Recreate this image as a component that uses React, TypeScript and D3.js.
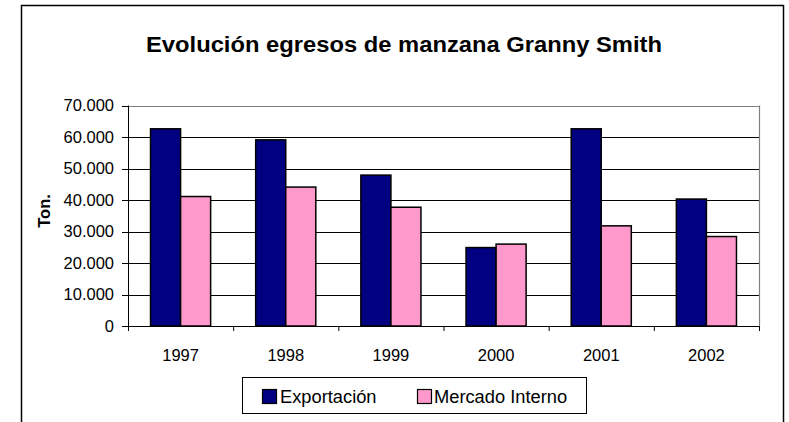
import React from "react";
import * as d3 from "d3";

const categories = ["1997", "1998", "1999", "2000", "2001", "2002"];
const exportacion = [62600, 59100, 47900, 24900, 62600, 40300];
const mercadoInterno = [41100, 44100, 37700, 26000, 31800, 28400];
const seriesNames = ["Exportación", "Mercado Interno"];
const yTicks = [0, 10000, 20000, 30000, 40000, 50000, 60000, 70000];

const colors = ["#000080", "#FF99CC"];
const font = "'Liberation Sans', Arial, sans-serif";

export default function App() {
  const W = 789, H = 422;
  const left = 128, right = 759, top = 105.5, bottom = 326;
  const x = d3.scaleBand<string>().domain(categories).range([left, right]).paddingInner(0).paddingOuter(0);
  const inner = d3.scaleBand<number>().domain([0, 1]).range([0, x.bandwidth()]).paddingOuter(0.75).paddingInner(0);
  const y = d3.scaleLinear().domain([0, 70000]).range([bottom, top]);
  const fmt = (v: number) => (v === 0 ? "0" : d3.format(",")(v).replace(/,/g, "."));
  const series = [exportacion, mercadoInterno];

  return (
    <svg width={W} height={H} style={{ position: "absolute", left: 0, top: 0 }}>
      <rect x={0} y={0} width={W} height={H} fill="#fff" />
      <rect x={21.5} y={5.5} width={762} height={430} fill="#fff" stroke="#000" strokeWidth={1.5} />
      <text x={404} y={52.3} textAnchor="middle" fontFamily={font} fontWeight="bold" fontSize={22}
        textLength={516} lengthAdjust="spacingAndGlyphs">
        Evolución egresos de manzana Granny Smith
      </text>
      {/* gridlines */}
      {yTicks.slice(1).map((t) => (
        <line key={t} x1={left} x2={right} y1={Math.round(y(t)) + 0.5} y2={Math.round(y(t)) + 0.5}
          stroke={t === 70000 ? "#808080" : "#000"} strokeWidth={1} />
      ))}
      <line x1={right + 0.5} x2={right + 0.5} y1={top} y2={bottom} stroke="#808080" strokeWidth={1.2} />
      {/* bars */}
      {series.map((vals, si) =>
        vals.map((v, i) => (
          <rect key={`${si}-${i}`} x={(x(categories[i]) as number) + (inner(si) as number)} y={y(v)}
            width={inner.bandwidth()} height={bottom - y(v)} fill={colors[si]} stroke="#000" strokeWidth={1.5} />
        ))
      )}
      {/* axes */}
      <line x1={left + 0.5} x2={left + 0.5} y1={top} y2={bottom + 5} stroke="#000" strokeWidth={1} />
      <line x1={left - 6} x2={right} y1={bottom + 0.5} y2={bottom + 0.5} stroke="#000" strokeWidth={1.2} />
      {yTicks.map((t) => (
        <g key={t}>
          <line x1={left - 6} x2={left} y1={Math.round(y(t)) + 0.5} y2={Math.round(y(t)) + 0.5} stroke="#000" />
          <text x={left - 14} y={y(t)} dy="0.35em" textAnchor="end" fontFamily={font} fontSize={16.5}>
            {fmt(t)}
          </text>
        </g>
      ))}
      {categories.map((c) => (
        <line key={c} x1={(x(c) as number) + x.bandwidth() + 0.5} x2={(x(c) as number) + x.bandwidth() + 0.5}
          y1={bottom} y2={bottom + 5} stroke="#000" />
      ))}
      {categories.map((c) => (
        <text key={c} x={(x(c) as number) + x.bandwidth() / 2} y={361} textAnchor="middle" fontFamily={font} fontSize={16.5}>
          {c}
        </text>
      ))}
      <text transform={`translate(49.5,211) rotate(-90)`} textAnchor="middle" fontFamily={font} fontWeight="bold" fontSize={16.5}>
        Ton.
      </text>
      {/* legend */}
      <rect x={242.5} y={377.5} width={344} height={36} fill="#fff" stroke="#000" strokeWidth={1} />
      <rect x={262.5} y={389.5} width={14} height={14} fill={colors[0]} stroke="#000" strokeWidth={1.2} />
      <text x={280} y={402.5} fontFamily={font} fontSize={18.3}>{seriesNames[0]}</text>
      <rect x={417.5} y={389.5} width={14} height={14} fill={colors[1]} stroke="#000" strokeWidth={1.2} />
      <text x={434} y={402.5} fontFamily={font} fontSize={18.3}>{seriesNames[1]}</text>
    </svg>
  );
}
